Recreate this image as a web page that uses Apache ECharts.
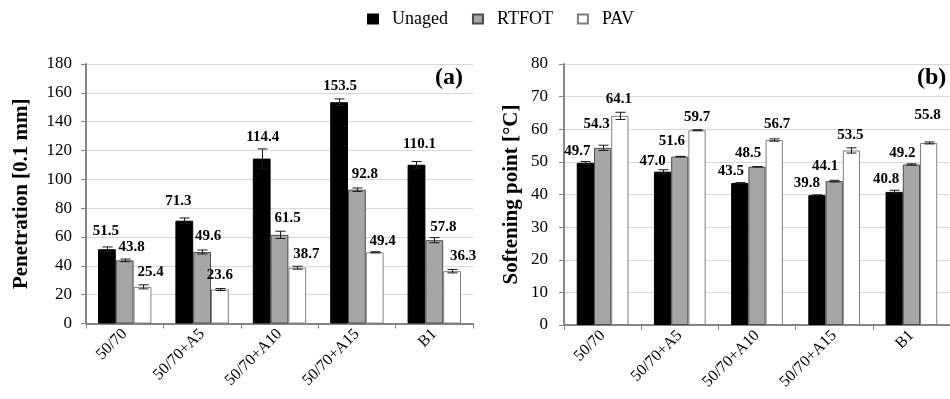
<!DOCTYPE html>
<html>
<head>
<meta charset="utf-8">
<script src="https://cdn.jsdelivr.net/npm/echarts@6/dist/echarts.min.js"></script>
<style>
html,body{margin:0;padding:0;background:#fff;}
#chart{width:950px;height:399px;}
</style>
</head>
<body>
<div id="chart"></div>
<script>
// ---- data ----
const categories = ['50/70', '50/70+A5', '50/70+A10', '50/70+A15', 'B1'];
const seriesNames = ['Unaged', 'RTFOT', 'PAV'];

const penUnaged = [51.5, 71.3, 114.4, 153.5, 110.1];
const penRtfot  = [43.8, 49.6, 61.5, 92.8, 57.8];
const penPav    = [25.4, 23.6, 38.7, 49.4, 36.3];
const penUnagedErr = [1.6, 1.9, 6.7, 2.3, 2.3];
const penRtfotErr  = [0.9, 1.4, 2.5, 1.2, 1.8];
const penPavErr    = [1.4, 0.7, 1.0, 0.4, 1.2];

const spUnaged = [49.7, 47.0, 43.5, 39.8, 40.8];
const spRtfot  = [54.3, 51.6, 48.5, 44.1, 49.2];
const spPav    = [64.1, 59.7, 56.7, 53.5, 55.8];
const spUnagedErr = [0.4, 0.6, 0.15, 0.1, 0.5];
const spRtfotErr  = [0.8, 0.1, 0.05, 0.25, 0.2];
const spPavErr    = [1.1, 0.15, 0.35, 0.8, 0.3];

const penAxis = {min: 0, max: 180, interval: 20, name: 'Penetration [0.1 mm]'};
const spAxis  = {min: 0, max: 80, interval: 10, name: 'Softening point [°C]'};
const panelTags = ['(a)', '(b)'];

// ---- styles ----
const FONT = 'Liberation Serif, Times New Roman, serif';
const barStyles = [
  {color: '#000000', borderColor: '#000000', borderWidth: 1},
  {color: '#a6a6a6', borderColor: '#4d4d4d', borderWidth: 1},
  {color: '#ffffff', borderColor: '#7f7f7f', borderWidth: 1}
];
const gapA = 0.31, gapB = 0.33;
// small label nudges [dx, dy] in px (as placed in the original figure)
const nudgeA = [
  [[-1, -3], [-6, -4], [1, -6], [1, -1], [3, -5]],
  [[7, 2], [6, 0], [8, -1], [8, 0], [9, 2]],
  [[8, 1], [0, 1], [9, 2], [8, 4], [11, 0]]
];
const nudgeB = [
  [[-8, 4], [-10, 5], [-9, 4], [-10, 3], [-8, 3]],
  [[-6, -8], [-8, 0], [-9, 2], [-9, 1], [-9, 4]],
  [[-1, -1], [0, 2], [3, 0], [-1, 0], [-1, -12]]
];

const chart = echarts.init(document.getElementById('chart'), null, {renderer: 'canvas'});

function errRender(slot, gapFrac) {
  return function (params, api) {
    const cat = api.value(0);
    const lo = api.value(1), hi = api.value(2);
    const band = api.size([1, 0])[0];
    const bw = band * (1 - gapFrac) / 3;
    const p1 = api.coord([cat, lo]);
    const p2 = api.coord([cat, hi]);
    const x = Math.round(p1[0] + (slot - 1) * bw) + 0.5;
    const half = 5;
    const st = {stroke: '#1a1a1a', lineWidth: 1};
    return {
      type: 'group',
      children: [
        {type: 'line', shape: {x1: x, y1: p2[1], x2: x, y2: p1[1]}, style: st},
        {type: 'line', shape: {x1: x - half, y1: p2[1], x2: x + half, y2: p2[1]}, style: st},
        {type: 'line', shape: {x1: x - half, y1: p1[1], x2: x + half, y2: p1[1]}, style: st}
      ]
    };
  };
}

function barSeries(name, values, idx, axisIdx) {
  const nudges = (axisIdx === 0 ? nudgeA : nudgeB)[idx];
  return {
    name: name,
    type: 'bar',
    xAxisIndex: axisIdx,
    yAxisIndex: axisIdx,
    data: values.map((v, i) => ({value: v, label: {offset: nudges[i]}})),
    barGap: '0%',
    barCategoryGap: (axisIdx === 0 ? gapA : gapB) * 100 + '%',
    itemStyle: barStyles[idx],
    label: {
      show: true,
      position: 'top',
      distance: 8,
      formatter: p => p.value.toFixed(1),
      fontFamily: FONT,
      fontWeight: 'bold',
      fontSize: 15,
      color: '#000'
    },
    z: 2
  };
}

function errSeries(values, errs, idx, axisIdx) {
  return {
    name: 'err' + axisIdx + idx,
    type: 'custom',
    xAxisIndex: axisIdx,
    yAxisIndex: axisIdx,
    renderItem: errRender(idx, axisIdx === 0 ? gapA : gapB),
    encode: {x: 0, y: [1, 2]},
    data: values.map((v, i) => [i, v - errs[i], v + errs[i]]),
    z: 5,
    silent: true
  };
}

function yAxisDef(ax, gridIdx, nameGap, labelMargin) {
  return {
    type: 'value',
    gridIndex: gridIdx,
    min: ax.min, max: ax.max, interval: ax.interval,
    name: ax.name,
    nameLocation: 'middle',
    nameGap: nameGap,
    nameTextStyle: {fontFamily: FONT, fontWeight: 'bold', fontSize: 21, color: '#000'},
    axisLine: {show: true, lineStyle: {color: '#868686', width: 2}},
    axisTick: {show: true, length: 5, lineStyle: {color: '#868686', width: 1}},
    axisLabel: {fontFamily: FONT, fontSize: 17, color: '#000', margin: labelMargin},
    splitLine: {show: true, lineStyle: {color: '#d9d9d9', width: 1}}
  };
}

function xAxisDef(gridIdx) {
  return {
    type: 'category',
    gridIndex: gridIdx,
    data: categories,
    axisLine: {show: true, lineStyle: {color: '#868686', width: 2}},
    axisTick: {show: true, length: 5, lineStyle: {color: '#868686', width: 1}},
    axisLabel: {fontFamily: FONT, fontSize: 16, color: '#000', rotate: 45, margin: 8, interval: 0}
  };
}

const option = {
  animation: false,
  backgroundColor: '#ffffff',
  legend: {
    data: seriesNames,
    left: 367,
    top: 10,
    padding: 0,
    itemWidth: 10,
    itemHeight: 9,
    itemGap: 24,
    icon: 'rect',
    textStyle: {fontFamily: FONT, fontSize: 18, color: '#000', padding: [0, 0, 0, 9]}
  },
  grid: [
    {left: 86, top: 64, width: 387, height: 259.5, containLabel: false},
    {left: 564, top: 64, width: 396, height: 261, containLabel: false}
  ],
  xAxis: [xAxisDef(0), xAxisDef(1)],
  yAxis: [yAxisDef(penAxis, 0, 54, 14), yAxisDef(spAxis, 1, 42, 16)],
  graphic: [
    {type: 'text', right: 950 - 463, top: 66,
     style: {text: panelTags[0], font: 'bold 24px ' + FONT, fill: '#000'}},
    {type: 'text', left: 917, top: 66,
     style: {text: panelTags[1], font: 'bold 24px ' + FONT, fill: '#000'}}
  ],
  series: [
    barSeries(seriesNames[0], penUnaged, 0, 0),
    barSeries(seriesNames[1], penRtfot, 1, 0),
    barSeries(seriesNames[2], penPav, 2, 0),
    barSeries(seriesNames[0], spUnaged, 0, 1),
    barSeries(seriesNames[1], spRtfot, 1, 1),
    barSeries(seriesNames[2], spPav, 2, 1),
    errSeries(penUnaged, penUnagedErr, 0, 0),
    errSeries(penRtfot, penRtfotErr, 1, 0),
    errSeries(penPav, penPavErr, 2, 0),
    errSeries(spUnaged, spUnagedErr, 0, 1),
    errSeries(spRtfot, spRtfotErr, 1, 1),
    errSeries(spPav, spPavErr, 2, 1)
  ]
};
chart.setOption(option);
</script>
</body>
</html>
